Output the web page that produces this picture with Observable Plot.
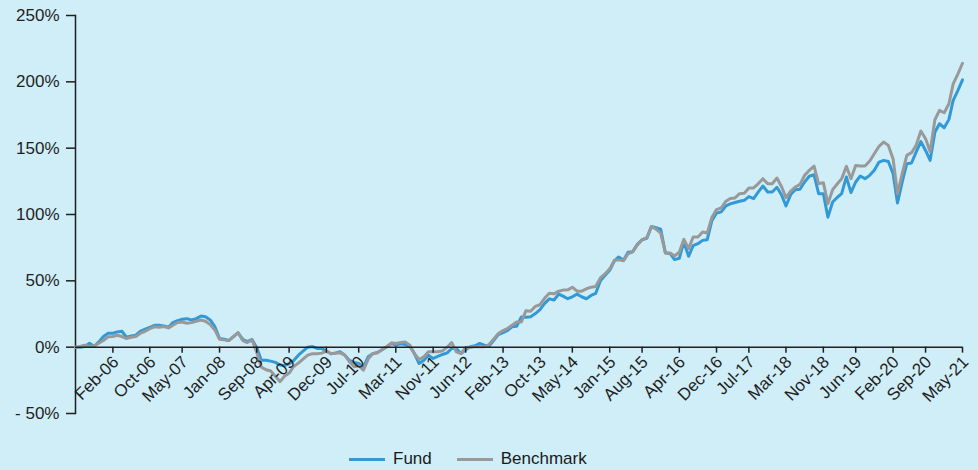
<!DOCTYPE html>
<html>
<head>
<meta charset="utf-8">
<script src="https://cdn.jsdelivr.net/npm/d3@7"></script>
<script src="https://cdn.jsdelivr.net/npm/@observablehq/plot@0.6"></script>
<style>
  html, body { margin: 0; padding: 0; background: #d0eef8; }
  body { width: 978px; height: 470px; position: relative; overflow: hidden;
         font-family: "Liberation Sans", Arial, sans-serif; color: #1a1a1a; }
  #legend { position: absolute; left: 349px; top: 448px; height: 22px;
            display: flex; align-items: center; font-size: 17px; }
  .item { display: flex; align-items: center; }
  .item + .item { margin-left: 25px; }
  .sw { width: 36px; height: 3px; margin-right: 8px; }
</style>
</head>
<body>
<div id="chart"></div>
<div id="legend"></div>
<script>
// Monthly series, first month Jun-2005, last month May-2021 (cumulative return, %)
const startMonth = "2005-06";
const seriesNames = ["Fund", "Benchmark"];
const seriesColors = ["#3399d6", "#999999"];

const fund = [
  0, 0, 0.5, 3, 0.5, 4, 8, 10.5, 10.5, 11.5,
  12, 7.5, 8.5, 9, 12, 13.5, 15, 16.5, 16.5, 16,
  15, 18.5, 20, 21, 21.5, 20.5, 21.5, 23.5, 23, 20.5,
  15.5, 6.5, 6, 5, 8, 10.8, 6, 4.2, 5.8, -0.5,
  -9.8, -9.8, -10.5, -11.5, -13.5, -14, -12.5, -10, -6, -3,
  0, 0.5, -1, -1, -3, -5, -4.3, -3.5, -6, -10,
  -11.5, -12.3, -14.8, -7.3, -5, -4, -2, 0.3, 2.8, 1.5,
  2.5, 2, 0.8, -4.8, -12.3, -9.8, -6, -8.5, -7, -5.5,
  -4.3, -1, -1, -4.8, -2, 0.3, 1, 2.8, 1.5, 0.8,
  5, 9.5, 11, 12.5, 15.3, 15.8, 22.8, 22.5, 23, 25.3,
  28.3, 33, 36.4, 35.6, 40, 38.5, 36.5, 38, 40, 38,
  36.5, 39, 40.5, 50, 54, 58, 65, 68, 65.5, 71.5,
  72, 77.5, 81, 82, 91, 90, 89, 71, 70.5, 66,
  67, 79.3, 68.5, 76.5, 78, 80.5, 81, 95.5, 101, 102,
  106.5, 108, 109, 110, 110.7, 113.5, 112, 117, 121.5, 117,
  117, 120.5, 114.5, 106.4, 115, 118.7, 119, 124.5, 128.8, 130,
  115.7, 115.7, 98, 109.4, 113, 115.7, 128.3, 116.5, 124.5, 129,
  127, 129.5, 133.3, 139.5, 140.8, 140, 130.8, 108.7, 124.5, 138.3,
  138.8, 147, 155, 148.3, 140.8, 162, 168.4, 165.4, 171.7, 186,
  193.5, 201.5
];

const benchmark = [
  0, 0.5, 1.5, 0.5, 1, 3, 5, 7.8, 8, 9,
  8, 6.5, 7.5, 8, 10.5, 12, 14, 15.3, 15, 15.5,
  14.5, 16.5, 18.6, 19, 18, 18.5, 19.5, 20.5, 19.5, 17,
  13, 6, 5.5, 5, 8, 11, 5, 3.5, 5.5, -4,
  -15, -17, -18, -22, -26, -22, -19.5, -14.5, -12, -9,
  -6, -5, -5, -4.5, -3, -5, -4.5, -4.3, -6, -11,
  -14.8, -14, -17.3, -9, -4.8, -4.3, -2, 0.3, 3.3, 2.8,
  3.5, 4, 1.5, -5, -9.3, -7.3, -3.5, -3.5, -3.5, -2.8,
  0, 3.5, -3.5, -4.8, -0.3, 0, 0.3, 0.3, 0.3, 2,
  6, 10.3, 12.5, 14, 16.5, 19, 19, 27.5, 27, 30.8,
  32, 37, 40.7, 40.2, 42.2, 43, 43.2, 45.2, 42.2, 42.2,
  44, 45.2, 45.7, 52.2, 55.2, 59, 65.5, 65.8, 65.2, 70.3,
  72, 77, 81, 82.5, 91, 89, 86, 71, 71, 68.8,
  71.5, 81.3, 74.3, 83, 83, 86.8, 86, 98, 103.7, 105,
  110, 112, 112.5, 115.7, 116, 120, 120, 123.3, 127, 123.2,
  123.2, 127.5, 120.7, 112.7, 117.7, 120.7, 122.7, 129.5, 133.3, 136.5,
  123.2, 124, 108.2, 118.7, 123.2, 127, 136.3, 127, 137, 136.5,
  136.5, 140.3, 145.8, 151.4, 154.6, 152.1, 142, 115.7, 130.8, 144.6,
  146.6, 152.1, 162.9, 157.1, 147.3, 171.4, 178.5, 176.7, 183.5, 198.5,
  206, 214
];

const xTickLabels = ["Feb-06","Oct-06","May-07","Jan-08","Sep-08","Apr-09","Dec-09","Jul-10",
  "Mar-11","Nov-11","Jun-12","Feb-13","Oct-13","May-14","Jan-15","Aug-15","Apr-16","Dec-16",
  "Jul-17","Mar-18","Nov-18","Jun-19","Feb-20","Sep-20","May-21"];
const yTicks = [-50, 0, 50, 100, 150, 200, 250];

// ---- build ----
const start = d3.utcParse("%Y-%m")(startMonth);
const dates = fund.map((_, i) => d3.utcMonth.offset(start, i));
const parseTick = d3.utcParse("%b-%y");
const rows = [];
fund.forEach((v, i) => rows.push({date: dates[i], value: v, series: "Fund"}));
benchmark.forEach((v, i) => rows.push({date: dates[i], value: v, series: "Benchmark"}));

const W = 978, H = 435;
const fmtY = d => d < 0 ? "- " + Math.abs(d) + "%" : d + "%";
const axisColor = "#1f1f1f";

const plot = Plot.plot({
  width: W,
  height: H,
  marginLeft: 75,
  marginRight: 16,
  marginTop: 15,
  marginBottom: 22,
  style: {background: "transparent", fontFamily: "'Liberation Sans', Arial, sans-serif", fontSize: "17px", color: axisColor},
  x: {type: "utc", domain: [dates[0], dates[dates.length - 1]], axis: null},
  y: {domain: [yTicks[0], yTicks[yTicks.length - 1]], axis: null},
  marks: [
    Plot.axisY({ticks: yTicks, tickFormat: fmtY, tickSize: 9, tickPadding: 7, strokeWidth: 1.5, fontSize: 17, label: null}),
    Plot.frame({anchor: "left", stroke: axisColor, strokeWidth: 1.5}),
    Plot.line(rows.filter(d => d.series === "Fund"), {x: "date", y: "value", stroke: seriesColors[0], strokeWidth: 3}),
    Plot.line(rows.filter(d => d.series === "Benchmark"), {x: "date", y: "value", stroke: seriesColors[1], strokeWidth: 3}),
    Plot.ruleY([0], {stroke: axisColor, strokeWidth: 1.5}),
    Plot.ruleX(xTickLabels, {x: d => parseTick(d), y1: 0, y2: 0, insetTop: 6, stroke: axisColor, strokeWidth: 1.5}),
    Plot.text(xTickLabels, {x: d => parseTick(d), y: 0, text: d => d, rotate: -45, textAnchor: "end",
      dx: 3, dy: 12, fontSize: 17, fill: axisColor})
  ]
});
document.getElementById("chart").appendChild(plot);

const legend = document.getElementById("legend");
seriesNames.forEach((name, i) => {
  const item = document.createElement("div");
  item.className = "item";
  const sw = document.createElement("span");
  sw.className = "sw";
  sw.style.background = seriesColors[i];
  const label = document.createElement("span");
  label.textContent = name;
  item.appendChild(sw);
  item.appendChild(label);
  legend.appendChild(item);
});
</script>
</body>
</html>
